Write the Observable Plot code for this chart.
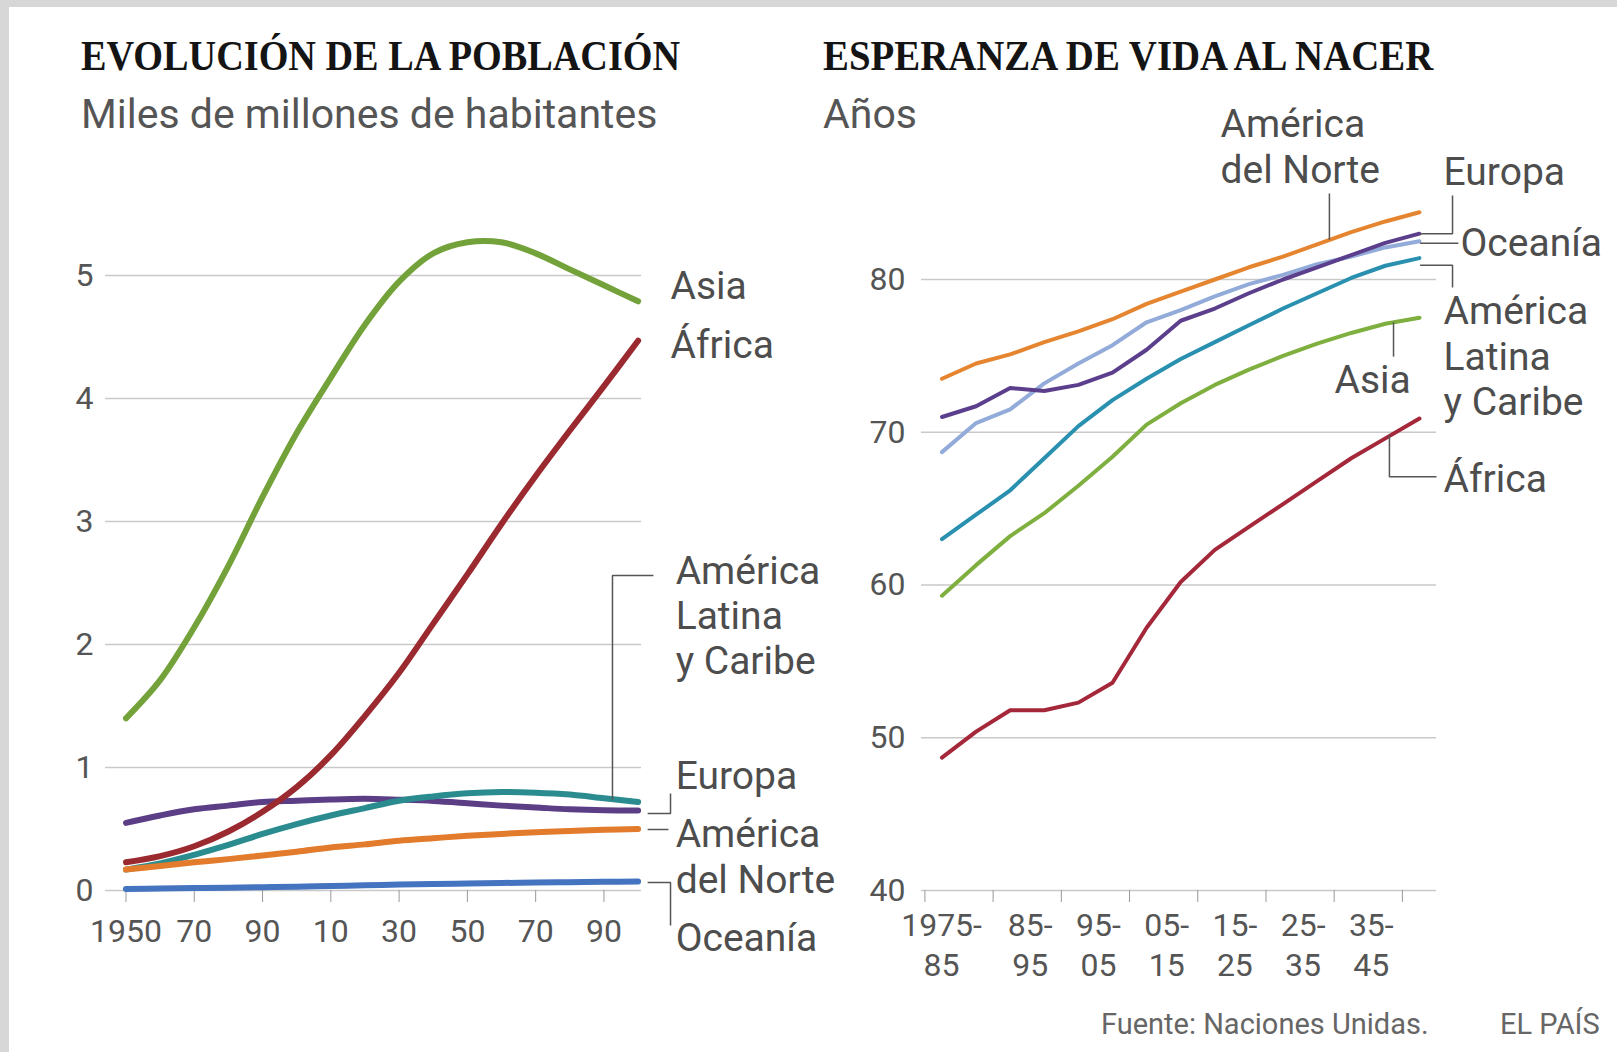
<!DOCTYPE html>
<html><head><meta charset="utf-8">
<script src="https://cdn.jsdelivr.net/npm/d3@7"></script>
<script src="https://cdn.jsdelivr.net/npm/@observablehq/plot@0.6"></script>
<style>
html,body{margin:0;padding:0;background:#fff;}
#page{position:relative;width:1617px;height:1052px;background:#fff;overflow:hidden;font-family:Roboto,sans-serif;}
.frameTop{position:absolute;left:0;top:0;width:1617px;height:7px;background:#d7d7d7;}
.frameLeft{position:absolute;left:0;top:0;width:9px;height:1052px;background:#d7d7d7;}
.title{position:absolute;top:35px;font-family:"Liberation Serif",serif;font-weight:700;font-size:42px;line-height:42px;color:#141414;transform:scaleX(0.91);transform-origin:0 0;white-space:nowrap;}
.sub{position:absolute;top:93.5px;font-size:41px;line-height:41px;color:#555;white-space:nowrap;}
.foot{position:absolute;top:1010px;font-size:29px;line-height:29px;color:#666;white-space:nowrap;}
.chart{position:absolute;top:150px;}
</style></head>
<body>
<div id="page">
  <div class="frameTop"></div><div class="frameLeft"></div>
  <div class="title" style="left:81px">EVOLUCIÓN DE LA POBLACIÓN</div>
  <div class="sub" style="left:81px">Miles de millones de habitantes</div>
  <div class="title" style="left:823px;transform:scaleX(0.925)">ESPERANZA DE VIDA AL NACER</div>
  <div class="sub" style="left:823px">Años</div>
  <div class="chart" id="left" style="left:0px"></div>
  <div class="chart" id="right" style="left:830px"></div>
  <div class="foot" style="left:1101px">Fuente: Naciones Unidas.</div>
  <div class="foot" style="left:1500px">EL PAÍS</div>
</div>
<script>
// ---------- DATA: population (billions) ----------
const popYears = [1950,1960,1970,1980,1990,2000,2010,2020,2030,2040,2050,2060,2070,2080,2090,2100];
const popOceania = [0.013,0.016,0.020,0.023,0.027,0.031,0.037,0.042,0.048,0.053,0.057,0.061,0.065,0.068,0.071,0.073];
const popEurope  = [0.55,0.61,0.66,0.69,0.72,0.73,0.74,0.745,0.738,0.728,0.71,0.69,0.675,0.66,0.652,0.65];
const popLatAm   = [0.17,0.22,0.29,0.37,0.46,0.54,0.61,0.67,0.73,0.765,0.79,0.80,0.795,0.78,0.75,0.72];
const popNorthAm = [0.17,0.20,0.23,0.255,0.285,0.315,0.35,0.375,0.405,0.425,0.445,0.46,0.473,0.484,0.494,0.50];
const popAfrica  = [0.23,0.28,0.36,0.48,0.64,0.84,1.10,1.42,1.77,2.17,2.57,2.98,3.37,3.74,4.10,4.47];
const popAsia    = [1.40,1.71,2.14,2.64,3.20,3.72,4.17,4.60,4.95,5.18,5.27,5.27,5.18,5.05,4.92,4.79];
const popTicks = [0,1,2,3,4,5];
const yearTicks = [1950,1970,1990,2010,2030,2050,2070,2090];

// ---------- DATA: life expectancy (years), 5-year periods 1975-80 ... 2045-50 ----------
const periodStarts = [1975,1980,1985,1990,1995,2000,2005,2010,2015,2020,2025,2030,2035,2040,2045];
const leAfrica  = [48.7,50.4,51.8,51.8,52.3,53.6,57.2,60.2,62.3,63.8,65.3,66.8,68.3,69.6,70.9];
const leAsia    = [59.3,61.3,63.2,64.7,66.5,68.4,70.5,71.9,73.1,74.1,75.0,75.8,76.5,77.1,77.5];
const leLatAm   = [63.0,64.6,66.2,68.3,70.4,72.1,73.5,74.8,75.9,77.0,78.1,79.1,80.1,80.9,81.4];
const leOceania = [68.7,70.6,71.5,73.2,74.5,75.7,77.2,78.0,78.9,79.7,80.3,81.0,81.5,82.1,82.5];
const leEurope  = [71.0,71.7,72.9,72.7,73.1,73.9,75.4,77.3,78.1,79.1,80.0,80.8,81.6,82.4,83.0];
const leNorthAm = [73.5,74.5,75.1,75.9,76.6,77.4,78.4,79.2,80.0,80.8,81.5,82.3,83.1,83.8,84.4];
const leTicks = [40,50,60,70,80];
const periodTicks = [1975,1985,1995,2005,2015,2025,2035,2045];
const periodLabelYears = [1977,1990,2000,2010,2020,2030,2040];
const periodLabels = ["1975-\n85","85-\n95","95-\n05","05-\n15","15-\n25","25-\n35","35-\n45"];

// ---------- tables built from the arrays ----------
const popSeries = [
  ["Oceanía", popOceania], ["Europa", popEurope], ["América Latina y Caribe", popLatAm],
  ["América del Norte", popNorthAm], ["África", popAfrica], ["Asia", popAsia]
];
const popRows = popSeries.flatMap(([region, vals]) => vals.map((v, i) => ({region, year: popYears[i], value: v})));
const leSeries = [
  ["África", leAfrica], ["Asia", leAsia], ["América Latina y Caribe", leLatAm],
  ["Oceanía", leOceania], ["Europa", leEurope], ["América del Norte", leNorthAm]
];
const leRows = leSeries.flatMap(([region, vals]) => vals.map((v, i) => ({region, year: periodStarts[i] + 2.5, value: v})));

// ---------- annotation layout (label anchors and leader lines, in data units) ----------
const popNotes = [
  {text: "Asia", x: 2109.5, y: 5.074},
  {text: "África", x: 2109.5, y: 4.594},
  {text: "América\nLatina\ny Caribe", x: 2111, y: 2.757},
  {text: "Europa", x: 2111, y: 1.09},
  {text: "América\ndel Norte", x: 2111, y: 0.611},
  {text: "Oceanía", x: 2111, y: -0.227}
];
const popLinks = [
  {id: "la", pts: [[2104.5, 2.561], [2092.5, 2.561], [2092.5, 0.74]]},
  {id: "eu", pts: [[2102.8, 0.626], [2109.5, 0.626], [2109.5, 0.789]]},
  {id: "na", pts: [[2102.8, 0.496], [2108.9, 0.496]]},
  {id: "oc", pts: [[2102.8, 0.065], [2109.5, 0.065], [2109.5, -0.285]]}
].flatMap(d => d.pts.map(([x, y]) => ({id: d.id, x, y})));

const leNotes = [
  {text: "América\ndel Norte", x: 2018.33, y: 91.40},
  {text: "Europa", x: 2051.03, y: 88.32},
  {text: "Oceanía", x: 2053.52, y: 83.67},
  {text: "América\nLatina\ny Caribe", x: 2051.03, y: 79.16},
  {text: "Asia", x: 2035.05, y: 74.70},
  {text: "África", x: 2051.03, y: 68.22}
];
const leLinks = [
  {id: "na", pts: [[2034.3, 85.63], [2034.3, 82.6]]},
  {id: "eu", pts: [[2052.35, 85.5], [2052.35, 83.0], [2047.6, 83.0]]},
  {id: "oc", pts: [[2047.6, 82.38], [2053.2, 82.38]]},
  {id: "la", pts: [[2047.6, 80.93], [2052.35, 80.93], [2052.35, 79.48]]},
  {id: "as", pts: [[2043.7, 77.2], [2043.7, 74.95]]},
  {id: "af", pts: [[2043.1, 69.8], [2043.1, 67.08], [2050.0, 67.08]]}
].flatMap(d => d.pts.map(([x, y]) => ({id: d.id, x, y})));

const baseStyle = {background: "transparent", fontFamily: "Roboto, sans-serif", color: "#555", overflow: "visible", maxWidth: "none"};
const yearFmt = d => d === 1950 ? "1950" : String(d % 100).padStart(2, "0");
const intFmt = d => String(d);
const periodMap = new Map(periodLabelYears.map((y, i) => [y, periodLabels[i]]));

const left = Plot.plot({
  width: 840, height: 820,
  marginLeft: 105, marginRight: 199, marginTop: 125, marginBottom: 80,
  x: {domain: [1944, 2101]},
  y: {domain: [0, 5]},
  color: {domain: ["Asia","África","América Latina y Caribe","Europa","América del Norte","Oceanía"],
          range: ["#74a23a","#9b2a30","#2b8c8f","#5c3e87","#e27b2b","#4473bf"]},
  style: baseStyle,
  marks: [
    Plot.ruleY(popTicks, {stroke: "#c9c9c9", strokeWidth: 1.6}),
    Plot.axisY({ticks: popTicks, tickSize: 0, tickPadding: 12, fontSize: 32, fill: "#555", tickFormat: intFmt, label: null}),
    Plot.axisX({ticks: yearTicks, tickSize: 12, tickPadding: 17, fontSize: 32, stroke: "#999", fill: "#555", tickFormat: yearFmt, label: null}),
    Plot.line(popRows, {x: "year", y: "value", z: "region", stroke: "region", strokeWidth: 6, curve: "catmull-rom"}),
    Plot.line(popLinks, {x: "x", y: "y", z: "id", stroke: "#555", strokeWidth: 1.5, strokeLinecap: "butt", strokeLinejoin: "miter"}),
    Plot.text(popNotes, {x: "x", y: "y", text: "text", textAnchor: "start", lineAnchor: "top", lineHeight: 1.16, fontSize: 39, fill: "#4d4d4d"})
  ]
});
document.getElementById("left").appendChild(left);

const right = Plot.plot({
  width: 787, height: 820,
  marginLeft: 91, marginRight: 181, marginTop: 129, marginBottom: 80,
  x: {domain: [1974.5, 2050]},
  y: {domain: [40, 80]},
  color: {domain: ["Asia","África","América Latina y Caribe","Europa","América del Norte","Oceanía"],
          range: ["#7eaf3f","#a4283a","#2a90b0","#5c3f8c","#e6852f","#92abd9"]},
  style: baseStyle,
  marks: [
    Plot.ruleY(leTicks, {stroke: "#c9c9c9", strokeWidth: 1.6}),
    Plot.axisY({ticks: leTicks, tickSize: 0, tickPadding: 16, fontSize: 32, fill: "#555", tickFormat: intFmt, label: null}),
    Plot.axisX({ticks: periodTicks, tickSize: 12, tickPadding: 0, fontSize: 32, stroke: "#999", fill: "none", tickFormat: () => "", label: null}),
    Plot.axisX({ticks: periodLabelYears, tickSize: 0, tickPadding: 16.5, fontSize: 32, lineHeight: 1.27, dx: 3, fill: "#555", tickFormat: d => periodMap.get(d), label: null}),
    Plot.line(leRows, {x: "year", y: "value", z: "region", stroke: "region", strokeWidth: 4, curve: "linear"}),
    Plot.line(leLinks, {x: "x", y: "y", z: "id", stroke: "#555", strokeWidth: 1.5, strokeLinecap: "butt", strokeLinejoin: "miter"}),
    Plot.text(leNotes, {x: "x", y: "y", text: "text", textAnchor: "start", lineAnchor: "top", lineHeight: 1.16, fontSize: 39, fill: "#4d4d4d"})
  ]
});
document.getElementById("right").appendChild(right);
</script>
</body></html>
